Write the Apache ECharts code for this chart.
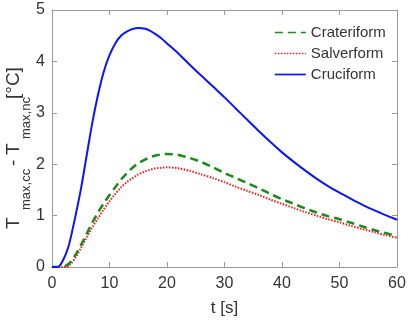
<!DOCTYPE html>
<html>
<head>
<meta charset="utf-8">
<script src="https://cdn.jsdelivr.net/npm/echarts@6/dist/echarts.min.js"></script>
<style>html,body{margin:0;padding:0;background:#fff;}#c{width:410px;height:322px;}</style>
</head>
<body>
<div id="c"></div>
<script>
var tValues = [0,1,1.5,2,2.5,3,4,5,6,7,8,9,10,11,12,13,14,15,16,17,18,19,20,22,24,26,28,30,32,34,36,38,40,42,44,46,48,50,52,54,56,58,60];
var crateriform = [0,0,0,0.01,0.03,0.07,0.22,0.42,0.64,0.86,1.06,1.24,1.4,1.55,1.7,1.82,1.93,2.02,2.08,2.13,2.17,2.19,2.2,2.18,2.12,2.04,1.94,1.83,1.73,1.63,1.53,1.42,1.32,1.23,1.14,1.06,0.99,0.93,0.86,0.79,0.72,0.66,0.6];
var salverform = [0,0,0,0,0,0.03,0.17,0.36,0.57,0.77,0.95,1.12,1.28,1.42,1.55,1.65,1.73,1.8,1.85,1.89,1.92,1.93,1.94,1.92,1.87,1.8,1.73,1.65,1.56,1.48,1.4,1.31,1.23,1.15,1.07,1.0,0.93,0.87,0.8,0.74,0.68,0.62,0.57];
var cruciform = [0,0,0.05,0.15,0.28,0.45,0.95,1.5,2.15,2.8,3.35,3.8,4.12,4.35,4.5,4.58,4.63,4.65,4.64,4.6,4.53,4.45,4.35,4.15,3.93,3.72,3.51,3.3,3.08,2.86,2.64,2.43,2.23,2.05,1.88,1.72,1.575,1.445,1.325,1.21,1.105,1.01,0.92];
var xTicks = [0,10,20,30,40,50,60];
var yTicks = [0,1,2,3,4,5];
var seriesNames = ['Crateriform','Salverform','Cruciform'];

function pairs(v){ return tValues.map(function(t,i){ return [t, v[i]]; }); }

var FONT = '"Liberation Sans", Arial, Helvetica, sans-serif';
var axisColor = '#9a9a9a';
var labelColor = '#333333';

var chart = echarts.init(document.getElementById('c'), null, {renderer:'canvas'});
var baseAxis = {
  axisLine:{show:true, onZero:false, lineStyle:{color:axisColor, width:1}},
  axisTick:{show:true, inside:true, length:5, lineStyle:{color:axisColor}},
  splitLine:{show:false}
};
chart.setOption({
  animation:false,
  backgroundColor:'#fff',
  grid:{left:52, right:13, top:10, bottom:55, containLabel:false},
  legend:{
    left:274, top:25, orient:'vertical', itemWidth:31, itemHeight:14, itemGap:6,
    data:seriesNames,
    itemStyle:{opacity:0, borderWidth:0},
    lineStyle:{width:1.7},
    textStyle:{fontFamily:FONT, fontSize:15, color:labelColor},
    padding:0
  },
  xAxis:[
    Object.assign({}, baseAxis, {type:'value', min:0, max:60, interval:10, position:'bottom',
      name:'t [s]', nameLocation:'middle', nameGap:33,
      nameTextStyle:{fontFamily:FONT, fontSize:17, color:labelColor},
      axisLabel:{fontFamily:FONT, fontSize:16, color:labelColor, margin:9,
        formatter:function(v){ return xTicks.indexOf(v)>=0 ? String(v) : ''; }}}),
    Object.assign({}, baseAxis, {type:'value', min:0, max:60, interval:10, position:'top', axisLabel:{show:false}})
  ],
  yAxis:[
    Object.assign({}, baseAxis, {type:'value', min:0, max:5, interval:1, position:'left',
      axisLabel:{fontFamily:FONT, fontSize:16, color:labelColor, margin:7,
        formatter:function(v){ return yTicks.indexOf(v)>=0 ? String(v) : ''; }}}),
    Object.assign({}, baseAxis, {type:'value', min:0, max:5, interval:1, position:'right', axisLabel:{show:false}})
  ],
  series:[
    {name:seriesNames[0], type:'line', data:pairs(crateriform), symbol:'none', smooth:0.3, z:3,
      itemStyle:{color:'#1a8a1a'}, lineStyle:{color:'#1a8a1a', width:2.5, type:[8,5]}},
    {name:seriesNames[1], type:'line', data:pairs(salverform), symbol:'none', smooth:0.3, z:2,
      itemStyle:{color:'#ff1a1a'}, lineStyle:{color:'#ff1a1a', width:2, type:[1.5,1.5]}},
    {name:seriesNames[2], type:'line', data:pairs(cruciform), symbol:'none', smooth:0.3, z:4,
      itemStyle:{color:'#0a14ff'}, lineStyle:{color:'#0a14ff', width:2}}
  ],
  graphic:[{
    type:'group', x:14, y:229, rotation:Math.PI/2, silent:true,
    children:[
      {type:'text', x:0, y:0, style:{text:'T', font:'19px '+FONT, fill:labelColor, textAlign:'left', textVerticalAlign:'middle'}},
      {type:'text', x:19, y:12, style:{text:'max,cc', font:'13px '+FONT, fill:labelColor, textAlign:'left', textVerticalAlign:'middle'}},
      {type:'text', x:63, y:0, style:{text:'-', font:'19px '+FONT, fill:labelColor, textAlign:'left', textVerticalAlign:'middle'}},
      {type:'text', x:74, y:0, style:{text:'T', font:'19px '+FONT, fill:labelColor, textAlign:'left', textVerticalAlign:'middle'}},
      {type:'text', x:90, y:12, style:{text:'max,nc', font:'13px '+FONT, fill:labelColor, textAlign:'left', textVerticalAlign:'middle'}},
      {type:'text', x:130, y:0, style:{text:'[°C]', font:'19px '+FONT, fill:labelColor, textAlign:'left', textVerticalAlign:'middle'}}
    ]
  }]
});
</script>
</body>
</html>
